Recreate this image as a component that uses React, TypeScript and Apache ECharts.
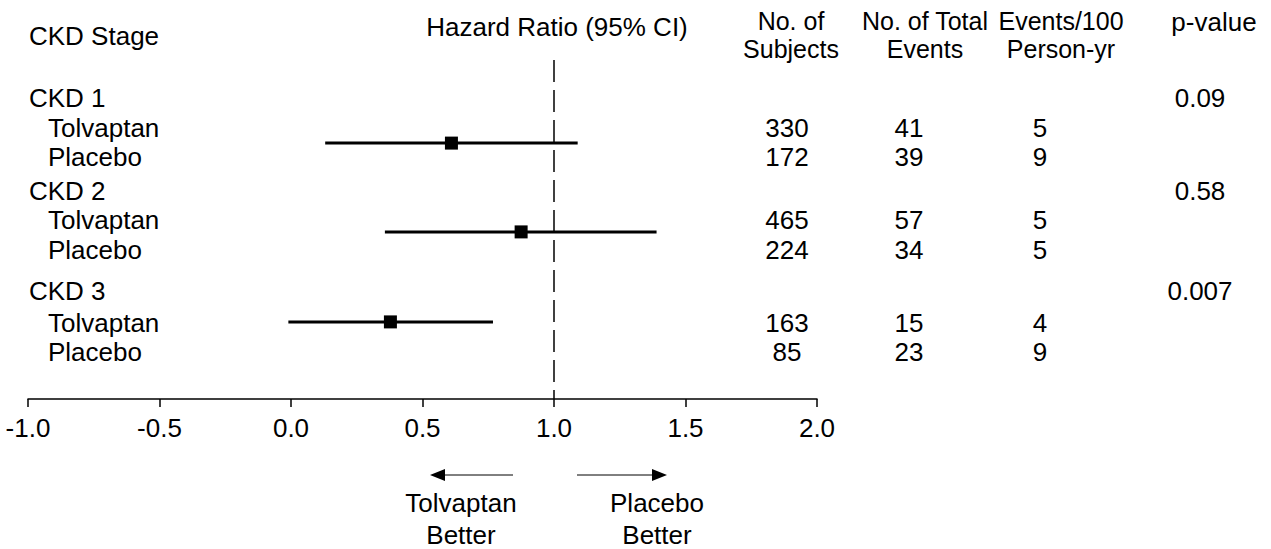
import React, { useEffect, useRef } from "react";
import * as echarts from "echarts";

// ---- data ----
const groups = ["CKD 1", "CKD 2", "CKD 3"];
const arms = ["Tolvaptan", "Placebo"];
const hrEstimate = [0.61, 0.875, 0.378];
const ciLow = [0.13, 0.357, -0.01];
const ciHigh = [1.09, 1.39, 0.768];
const subjects = [[330, 172], [465, 224], [163, 85]];
const totalEvents = [[41, 39], [57, 34], [15, 23]];
const eventsPer100 = [[5, 9], [5, 5], [4, 9]];
const pValues = ["0.09", "0.58", "0.007"];
const xMin = -1.0;
const xMax = 2.0;
const xStep = 0.5;
const referenceHR = 1.0;

// row positions in "row units" (one unit ~ one text line)
const groupRowPos = [1.27, 4.37, 7.7];
const tolRowPos = [2.27, 5.33, 8.77];
const plaRowPos = [3.23, 6.33, 9.73];
const ciRowPos = [2.77, 5.73, 8.73];
const yMaxRows = 11.3;

const FONT = '"Liberation Sans", Arial, Helvetica, sans-serif';
const FS = 26;
const W = 1271;
const H = 549;
const GRID_LEFT = 28;
const GRID_RIGHT = 454;
const GRID_TOP = 60;
const GRID_BOTTOM = 150;

export default function App() {
  const ref = useRef<HTMLDivElement>(null);
  useEffect(() => {
    document.body.style.margin = "0";
    const chart = echarts.init(ref.current!, null, { renderer: "svg" });
    const gridH = H - GRID_TOP - GRID_BOTTOM;
    const yPix = (v: number) => GRID_TOP + (v / yMaxRows) * gridH;

    const txt = (
      text: string,
      x: number,
      y: number,
      align = "center",
      lineHeight = FS,
      fontSize = FS
    ) => ({
      type: "text",
      x,
      y,
      silent: true,
      style: {
        text,
        fill: "#000",
        fontSize,
        fontFamily: FONT,
        lineHeight,
        align,
        verticalAlign: "middle",
      },
    });

    const graphics: any[] = [];
    // headers
    graphics.push(txt("CKD Stage", 29, 36, "left"));
    graphics.push(txt("Hazard Ratio (95% CI)", 557, 27));
    graphics.push(txt("No. of\nSubjects", 791, 35, "center", 28, 25));
    graphics.push(txt("No. of Total\nEvents", 925, 35, "center", 28, 25));
    graphics.push(txt("Events/100\nPerson-yr", 1061, 35, "center", 28, 25));
    graphics.push(txt("p-value", 1214, 22));

    groups.forEach((g, i) => {
      graphics.push(txt(g, 29, yPix(groupRowPos[i]), "left"));
      graphics.push(txt(pValues[i], 1200, yPix(groupRowPos[i])));
      const rows = [tolRowPos[i], plaRowPos[i]];
      arms.forEach((a, j) => {
        const y = yPix(rows[j]);
        graphics.push(txt(a, 48, y, "left"));
        graphics.push(txt(String(subjects[i][j]), 787, y));
        graphics.push(txt(String(totalEvents[i][j]), 909, y));
        graphics.push(txt(String(eventsPer100[i][j]), 1040, y));
      });
    });

    // direction arrows
    const ay = 475;
    graphics.push({
      type: "line",
      shape: { x1: 444, y1: ay, x2: 513, y2: ay },
      style: { stroke: "#000", lineWidth: 1 },
    });
    graphics.push({
      type: "polygon",
      shape: { points: [[430, ay], [445, ay - 6], [445, ay + 6]] },
      style: { fill: "#000" },
    });
    graphics.push({
      type: "line",
      shape: { x1: 577, y1: ay, x2: 653, y2: ay },
      style: { stroke: "#000", lineWidth: 1 },
    });
    graphics.push({
      type: "polygon",
      shape: { points: [[667, ay], [652, ay - 6], [652, ay + 6]] },
      style: { fill: "#000" },
    });
    graphics.push(txt("Tolvaptan\nBetter", 461, 519, "center", 32));
    graphics.push(txt("Placebo\nBetter", 657, 519, "center", 32));

    const forestData = groups.map((_, i) => [ciLow[i], hrEstimate[i], ciHigh[i], ciRowPos[i]]);

    chart.setOption({
      animation: false,
      backgroundColor: "#fff",
      grid: { left: GRID_LEFT, right: GRID_RIGHT, top: GRID_TOP, bottom: GRID_BOTTOM, containLabel: false },
      xAxis: {
        type: "value",
        min: xMin,
        max: xMax,
        interval: xStep,
        axisLine: { show: true, onZero: false, lineStyle: { color: "#000", width: 1.5 } },
        axisTick: { show: true, inside: false, length: 8, lineStyle: { color: "#000", width: 1.5 } },
        axisLabel: {
          color: "#000",
          fontSize: FS,
          fontFamily: FONT,
          margin: 16,
          formatter: (v: number) => v.toFixed(1),
        },
        splitLine: { show: false },
      },
      yAxis: {
        type: "value",
        min: 0,
        max: yMaxRows,
        inverse: true,
        show: false,
        splitLine: { show: false },
      },
      series: [
        {
          type: "line",
          data: [[referenceHR, 0], [referenceHR, yMaxRows]],
          symbol: "none",
          silent: true,
          lineStyle: { color: "#000", width: 1.5, type: [22, 8] },
        },
        {
          type: "custom",
          encode: { x: [0, 1, 2], y: 3 },
          data: forestData,
          renderItem: (_params: any, api: any) => {
            const y = api.value(3);
            const lo = api.coord([api.value(0), y]);
            const hi = api.coord([api.value(2), y]);
            const est = api.coord([api.value(1), y]);
            return {
              type: "group",
              children: [
                {
                  type: "line",
                  shape: { x1: lo[0], y1: lo[1], x2: hi[0], y2: hi[1] },
                  style: { stroke: "#000", lineWidth: 3 },
                },
                {
                  type: "rect",
                  shape: { x: est[0] - 6.5, y: est[1] - 6.5, width: 13, height: 13 },
                  style: { fill: "#000" },
                },
              ],
            };
          },
        },
      ],
      graphic: graphics,
    });
    return () => chart.dispose();
  }, []);
  return <div ref={ref} style={{ width: W, height: H }} />;
}
